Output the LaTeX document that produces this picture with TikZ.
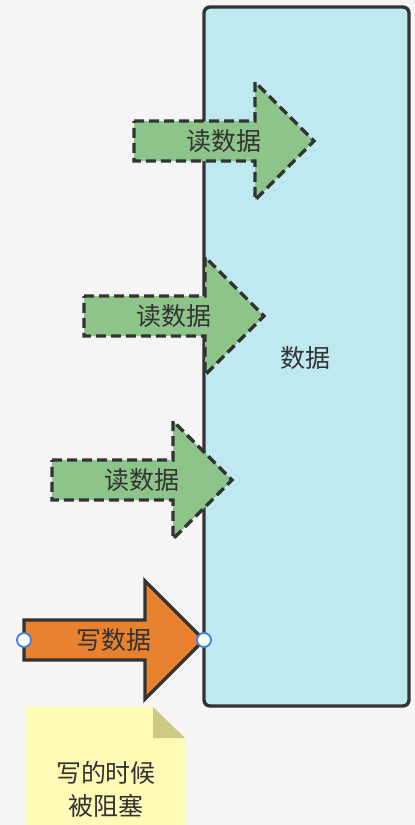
\documentclass[tikz,border=0pt]{standalone}
\usepackage{fontspec}
\newfontfamily\cjk{Noto Sans CJK SC}

\definecolor{bgc}{HTML}{F5F5F5}
\definecolor{edge}{HTML}{333333}
\definecolor{datafill}{HTML}{BEE9F0}
\definecolor{readfill}{HTML}{8DC48A}
\definecolor{writefill}{HTML}{E8822F}
\definecolor{notefill}{HTML}{FFFBB6}
\definecolor{notefold}{HTML}{CDCA86}
\definecolor{handle}{HTML}{3C7FE6}

\tikzset{
  lbl/.style={font=\cjk\fontsize{25}{33}\selectfont, text=edge, inner sep=0pt},
  readarrow/.style={draw=edge, fill=readfill, line width=3.4pt, dash pattern=on 10pt off 5pt},
  writearrow/.style={draw=edge, fill=writefill, line width=3.4pt},
  grip/.style={circle, draw=handle, fill=white, line width=1.8pt, minimum size=14pt, inner sep=0pt}
}

% arrow: style, left x, middle y, node name, text
\newcommand{\datarrow}[5]{
  \draw[#1] (#2,#3-20) -- (#2+121,#3-20) -- (#2+121,#3-59) -- (#2+180,#3)
    -- (#2+121,#3+59) -- (#2+121,#3+20) -- (#2,#3+20) -- cycle;
  \node[lbl] (#4) at (#2+90,#3) {#5};
}

\begin{document}
\begin{tikzpicture}[x=1pt, y=-1pt]
  \fill[bgc] (0,0) rectangle (415,825);
  \useasboundingbox (0,0) rectangle (415,825);

  % data block
  \draw[draw=edge, fill=datafill, line width=3.4pt, rounded corners=6pt] (204,7) rectangle (409,706);
  \node[lbl] (data) at (305,358) {数据};

  % readers
  \datarrow{readarrow}{134}{141}{read1}{读数据}
  \datarrow{readarrow}{84}{316}{read2}{读数据}
  \datarrow{readarrow}{52}{480}{read3}{读数据}

  % writer
  \datarrow{writearrow}{24}{640}{write}{写数据}
  \node[grip] (g1) at (24,640) {};
  \node[grip] (g2) at (204,640) {};

  % note
  \fill[notefill] (26,707) -- (153,707) -- (185,738) -- (185,825) -- (26,825) -- cycle;
  \fill[notefold] (153,707) -- (185,738) -- (153,738) -- cycle;
  \node[lbl, align=center] (note) at (106,789) {写的时候\\被阻塞};
\end{tikzpicture}
\end{document}
